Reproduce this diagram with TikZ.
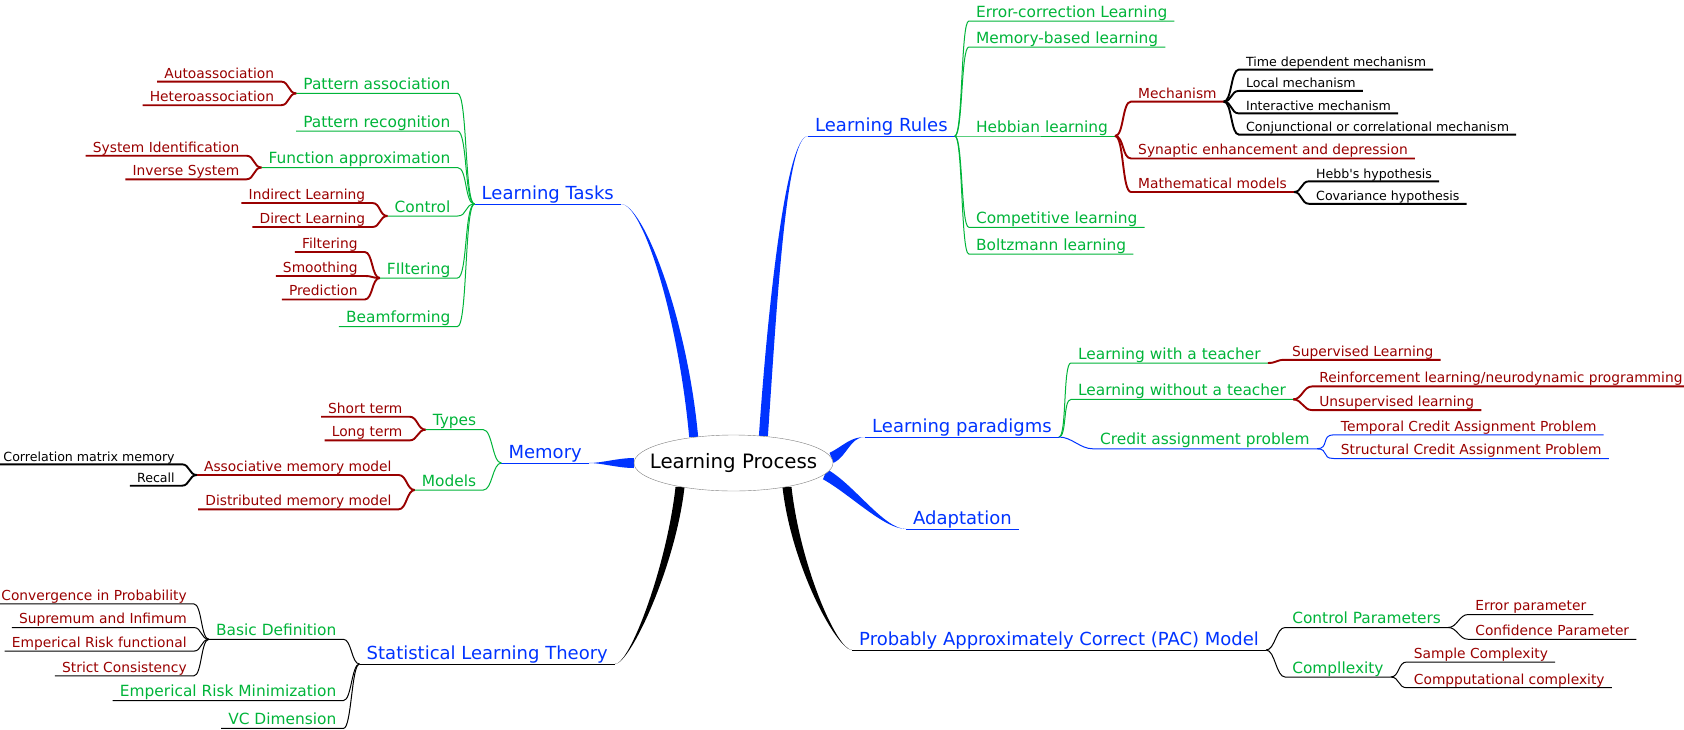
\documentclass[tikz,border=0pt]{standalone}
\usepackage{fontspec}
\setmainfont{DejaVu Sans}
\usetikzlibrary{positioning,shapes.geometric,calc}
\definecolor{mapblue}{HTML}{0033FF}
\definecolor{mapgreen}{HTML}{00B439}
\definecolor{mapred}{HTML}{990000}
\pgfdeclarelayer{background}
\pgfsetlayers{background,main}
% tapered branch from the root: colour, from, to, out, in, half width
\newcommand\taper[6]{%
  \fill[#1] ($(#2)+(#6)$) .. controls +(#4) and +(#5) .. (#3)
    .. controls +(#5) and +(#4) .. ($(#2)-(#6)$) -- cycle;}

\begin{document}
\begin{tikzpicture}[x=1pt,y=-1pt,
    root/.style={ellipse,draw=gray,fill=white,minimum width=199pt,minimum height=56pt,inner xsep=-14pt,inner ysep=0pt,font=\fontsize{19.8}{22}\selectfont},
    topic/.style={inner xsep=7pt,inner ysep=0.4pt,text height=13pt,text depth=3.8pt,font=\fontsize{18}{20}\selectfont,text=mapblue},
    sub/.style={topic,text height=11.5pt,text depth=3.3pt,font=\fontsize{15.4}{18}\selectfont,text=mapgreen},
    leaf/.style={topic,text height=10.3pt,text depth=3pt,font=\fontsize{13.8}{16}\selectfont,text=mapred},
    twig/.style={topic,text height=9.2pt,text depth=2.7pt,font=\fontsize{12.6}{14}\selectfont,text=black},
    gline/.style={draw=mapgreen,line width=1pt},
    bline/.style={draw=mapblue,line width=1pt},
    rline/.style={draw=mapred,line width=1.9pt},
    kline/.style={draw=black,line width=1pt},
    kbold/.style={draw=black,line width=1.9pt}]
  \useasboundingbox (0,0) rectangle (1684,729);

  \node[root] (lp) at (733.5,463) {Learning Process};

  % main topics
  \node[topic,anchor=south east] (tasks) at (621,204) {Learning Tasks};
  \node[topic,anchor=south west] (rules) at (808,136) {Learning Rules};
  \node[topic,anchor=south west] (paradigms) at (865,437) {Learning paradigms};
  \node[topic,anchor=south west] (adapt) at (906,529) {Adaptation};
  \node[topic,anchor=south west] (pac) at (852,650) {Probably Approximately Correct (PAC) Model};
  \node[topic,anchor=south east] (slt) at (615,664) {Statistical Learning Theory};
  \node[topic,anchor=south east] (memory) at (589,463) {Memory};

  % learning tasks
  \node[sub,above left=110.6pt and 17pt of tasks.south west] (patassoc) {Pattern association};
  \node[sub,above left=73pt and 17pt of tasks.south west] (patrec) {Pattern recognition};
  \node[sub,above left=36.5pt and 17pt of tasks.south west] (funcapp) {Function approximation};
  \node[sub,above left=-12pt and 17pt of tasks.south west] (control) {Control};
  \node[sub,above left=-74pt and 17pt of tasks.south west] (filtering) {FIltering};
  \node[sub,above left=-122.5pt and 17pt of tasks.south west] (beam) {Beamforming};
  \node[leaf,above left=11.8pt and 15pt of patassoc.south west] (auto) {Autoassociation};
  \node[leaf,above left=-11.8pt and 15pt of patassoc.south west] (hetero) {Heteroassociation};
  \node[leaf,above left=11.8pt and 15pt of funcapp.south west] (sysid) {System Identification};
  \node[leaf,above left=-11.8pt and 15pt of funcapp.south west] (invsys) {Inverse System};
  \node[leaf,above left=13pt and 15pt of control.south west] (indirect) {Indirect Learning};
  \node[leaf,above left=-11pt and 15pt of control.south west] (direct) {Direct Learning};
  \node[leaf,above left=26pt and 15pt of filtering.south west] (filt) {Filtering};
  \node[leaf,above left=2pt and 15pt of filtering.south west] (smooth) {Smoothing};
  \node[leaf,above left=-21.5pt and 15pt of filtering.south west] (predict) {Prediction};

  % learning rules
  \node[sub,above right=115pt and 14pt of rules.south east] (errcorr) {Error-correction Learning};
  \node[sub,above right=89pt and 14pt of rules.south east] (membased) {Memory-based learning};
  \node[sub,above right=0pt and 14pt of rules.south east] (hebb) {Hebbian learning};
  \node[sub,above right=-91.3pt and 14pt of rules.south east] (compet) {Competitive learning};
  \node[sub,above right=-118pt and 14pt of rules.south east] (boltz) {Boltzmann learning};
  \node[leaf,above right=34.4pt and 16pt of hebb.south east] (mech) {Mechanism};
  \node[leaf,above right=-22.5pt and 16pt of hebb.south east] (synap) {Synaptic enhancement and depression};
  \node[leaf,above right=-56pt and 16pt of hebb.south east] (mathmod) {Mathematical models};
  \node[twig,above right=32pt and 15pt of mech.south east] (timedep) {Time dependent mechanism};
  \node[twig,above right=10.7pt and 15pt of mech.south east] (local) {Local mechanism};
  \node[twig,above right=-11.8pt and 15pt of mech.south east] (interact) {Interactive mechanism};
  \node[twig,above right=-33pt and 15pt of mech.south east] (conj) {Conjunctional or correlational mechanism};
  \node[twig,above right=10.7pt and 15pt of mathmod.south east] (hebbhyp) {Hebb\textquotesingle s hypothesis};
  \node[twig,above right=-11.8pt and 15pt of mathmod.south east] (cov) {Covariance hypothesis};

  % learning paradigms
  \node[sub,above right=74pt and 12pt of paradigms.south east] (withT) {Learning with a teacher};
  \node[sub,above right=37.6pt and 12pt of paradigms.south east] (withoutT) {Learning without a teacher};
  \node[sub,above right=-11.8pt and 34pt of paradigms.south east] (credit) {Credit assignment problem};
  \node[leaf,above right=3.2pt and 17pt of withT.south east] (superv) {Supervised Learning};
  \node[leaf,above right=13pt and 19pt of withoutT.south east] (reinf) {Reinforcement learning/neurodynamic programming};
  \node[leaf,above right=-10.7pt and 19pt of withoutT.south east] (unsup) {Unsupervised learning};
  \node[leaf,above right=14pt and 17pt of credit.south east] (temporal) {Temporal Credit Assignment Problem};
  \node[leaf,above right=-9.7pt and 17pt of credit.south east] (structural) {Structural Credit Assignment Problem};

  % pac model
  \node[sub,above right=22.5pt and 19pt of pac.south east] (ctrlpar) {Control Parameters};
  \node[sub,above right=-27pt and 19pt of pac.south east] (complx) {Compllexity};
  \node[leaf,above right=13pt and 20pt of ctrlpar.south east] (errpar) {Error parameter};
  \node[leaf,above right=-11.8pt and 20pt of ctrlpar.south east] (confpar) {Confidence Parameter};
  \node[leaf,above right=15pt and 16pt of complx.south east] (sample) {Sample Complexity};
  \node[leaf,above right=-10.7pt and 16pt of complx.south east] (comput) {Compputational complexity};

  % statistical learning theory
  \node[sub,above left=24.7pt and 16pt of slt.south west] (basicdef) {Basic Definition};
  \node[sub,above left=-36.5pt and 16pt of slt.south west] (erm) {Emperical Risk Minimization};
  \node[sub,above left=-64.4pt and 16pt of slt.south west] (vcdim) {VC Dimension};
  \node[leaf,above left=35.4pt and 15pt of basicdef.south west] (conv) {Convergence in Probability};
  \node[leaf,above left=11.8pt and 15pt of basicdef.south west] (supr) {Supremum and Infimum};
  \node[leaf,above left=-11.8pt and 15pt of basicdef.south west] (emprisk) {Emperical Risk functional};
  \node[leaf,above left=-36.5pt and 15pt of basicdef.south west] (strict) {Strict Consistency};

  % memory
  \node[sub,above left=33.3pt and 18pt of memory.south west] (types) {Types};
  \node[sub,above left=-27pt and 18pt of memory.south west] (models) {Models};
  \node[leaf,above left=13pt and 16pt of types.south west] (short) {Short term};
  \node[leaf,above left=-10.7pt and 16pt of types.south west] (long) {Long term};
  \node[leaf,above left=15pt and 16pt of models.south west] (assoc) {Associative memory model};
  \node[leaf,above left=-19.3pt and 16pt of models.south west] (distrib) {Distributed memory model};
  \node[twig,above left=10.7pt and 15pt of assoc.south west] (corr) {Correlation matrix memory};
  \node[twig,above left=-10.7pt and 15pt of assoc.south west] (recall) {Recall};

  % branches from the root
  \begin{pgfonlayer}{background}
  \taper{mapblue}{lp.147}{tasks.south east}{-11,-120}{22,0}{4.5,0}
  \taper{mapblue}{lp.42}{rules.south west}{9,-130}{-22,0}{4.5,0}
  \taper{mapblue}{lp.3}{paradigms.south west}{14,-7}{-15,0}{2,5}
  \taper{mapblue}{lp.-7}{adapt.south west}{27,15}{-22,0}{-2,5}
  \taper{mapblue}{lp.west}{memory.south east}{-16,0}{13,0}{0,5}
  \taper{black}{lp.-24}{pac.south west}{9,80}{-15,0}{4.5,0}
  \taper{black}{lp.-156}{slt.south east}{-9,80}{15,0}{4.5,0}
  \end{pgfonlayer}
  \foreach \t in {tasks,memory} \draw[bline] (\t.south east) -- (\t.south west);
  \foreach \t in {rules,paradigms,adapt} \draw[bline] (\t.south west) -- (\t.south east);
  \draw[kline] (slt.south east) -- (slt.south west);
  \draw[kline] (pac.south west) -- (pac.south east);

  % left side edges
  \foreach \c in {patassoc,patrec,funcapp,control,filtering,beam}
    \draw[gline] (tasks.south west) .. controls +(-10,0) and +(10,0) .. (\c.south east) -- (\c.south west);
  \foreach \p/\c in {patassoc/auto,patassoc/hetero,funcapp/sysid,funcapp/invsys,control/indirect,control/direct,filtering/filt,filtering/smooth,filtering/predict,types/short,types/long,models/assoc,models/distrib}
    \draw[rline] (\p.south west) .. controls +(-8,0) and +(8,0) .. (\c.south east) -- (\c.south west);
  \foreach \c in {types,models}
    \draw[gline] (memory.south west) .. controls +(-9,0) and +(9,0) .. (\c.south east) -- (\c.south west);
  \foreach \c in {corr,recall}
    \draw[kbold] (assoc.south west) .. controls +(-8,0) and +(8,0) .. (\c.south east) -- (\c.south west);
  \foreach \p/\c in {slt/basicdef,slt/erm,slt/vcdim,basicdef/conv,basicdef/supr,basicdef/emprisk,basicdef/strict}
    \draw[kline] (\p.south west) .. controls +(-8,0) and +(8,0) .. (\c.south east) -- (\c.south west);

  % right side edges
  \foreach \p/\c in {rules/errcorr,rules/membased,rules/hebb,rules/compet,rules/boltz,paradigms/withT,paradigms/withoutT}
    \draw[gline] (\p.south east) .. controls +(8,0) and +(-8,0) .. (\c.south west) -- (\c.south east);
  \foreach \p/\c in {hebb/mech,hebb/synap,hebb/mathmod,withT/superv,withoutT/reinf,withoutT/unsup}
    \draw[rline] (\p.south east) .. controls +(9,0) and +(-9,0) .. (\c.south west) -- (\c.south east);
  \foreach \p/\c in {mech/timedep,mech/local,mech/interact,mech/conj,mathmod/hebbhyp,mathmod/cov}
    \draw[kbold] (\p.south east) .. controls +(8,0) and +(-8,0) .. (\c.south west) -- (\c.south east);
  \foreach \p/\c in {paradigms/credit,credit/temporal,credit/structural}
    \draw[bline] (\p.south east) .. controls +(13,0) and +(-13,0) .. (\c.south west) -- (\c.south east);
  \foreach \p/\c in {pac/ctrlpar,pac/complx,ctrlpar/errpar,ctrlpar/confpar,complx/sample,complx/comput}
    \draw[kline] (\p.south east) .. controls +(9,0) and +(-9,0) .. (\c.south west) -- (\c.south east);
\end{tikzpicture}
\end{document}
